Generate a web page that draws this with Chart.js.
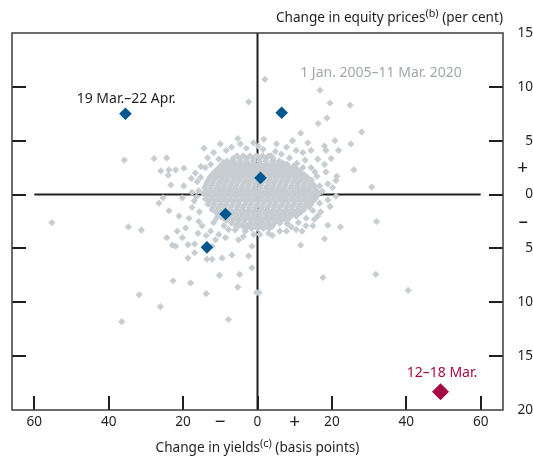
<!DOCTYPE html>
<html><head><meta charset="utf-8">
<script src="https://cdn.jsdelivr.net/npm/chart.js@4"></script>
<style>html,body{margin:0;padding:0;background:#fff}#wrap{width:533px;height:457px;position:relative}</style>
</head><body><div id="wrap"><canvas id="c" width="533" height="457"></canvas></div>
<script>
// ---------- data ----------
const xTickValues = [-60, -40, -20, 0, 20, 40, 60];
const xSignTicks = [{ value: -10, label: '−' }, { value: 10, label: '+' }];
const yTickValues = [15, 10, 5, 0, -5, -10, -15, -20];
const ySignTicks = [{ value: 2.4, label: '+\u00a0' }, { value: -2.6, label: '–\u00a0' }];
const xRange = [-66, 66];
const yRange = [-20, 15];

const xTitle = ['Change in yields', '(c)', ' (basis points)'];
const yTitle = ['Change in equity prices', '(b)', ' (per cent)'];
const labelHistory = '1 Jan. 2005–11 Mar. 2020';
const labelRecent = '19 Mar.–22 Apr.';
const labelCrisis = '12–18 Mar.';

// scattered daily observations, 1 Jan. 2005 – 11 Mar. 2020 (outer part of cloud)
const outlierPoints = [
  [-2.4,8.6],[-14.4,4.3],[-10,4.7],[-5.3,5.2],[-4.6,4.7],[-1.1,4.8],[-35.8,3.2],[-27.8,3.35],[-24.4,3.4],
  [-26,2.2],[-23.8,2.3],[-22,2.3],[-19.8,2.45],[-24,1.8],[-23.3,0.9],[-19.8,0.8],[-16.7,2.0],[-15.3,1.6],
  [-14,2.5],[-12.6,2.8],[-10.4,3.3],[-9.1,3.0],[-6.9,3.1],[-6,2.5],[-15.8,0.35],[-17.6,0.2],
  [-55.3,-2.6],[-34.7,-3.0],[-31.2,-3.3],[-24.4,-4.0],[-22.9,-4.7],[-22,-4.8],[-18.7,-5.9],[-16.9,-5.4],
  [-18.7,-4.65],[-16.9,-4.6],[-20.2,-4.0],[-21.6,-3.4],[-21.1,-2.0],[-23.8,-1.5],[-26.5,-0.8],[-25.4,-0.3],
  [-20.2,-0.3],[-18.4,-2.2],[-19.3,-3.1],[-17.6,-1.2],[-15.8,-2.5],[-14.9,-2.9],[-12.2,-6.0],[-13.6,-6.0],
  [-9.5,-5.9],[-6.9,-5.6],[-11.3,-4.2],[-10.4,-3.7],[-8.6,-4.0],[-5.1,-4.2],[-2.4,-5.7],[-1.5,-6.8],
  [-4.8,-7.4],[-10.2,-7.5],[-22.7,-8.0],[-18,-8.2],[-5.3,-8.6],[-13.8,-9.2],[-31.8,-9.3],[-26.1,-10.4],
  [-36.5,-11.8],[-7.8,-11.6],[-0.2,-9.1],[-5.1,-2.9],[-3.3,-3.4],[-2.4,-2.9],[-1.5,-4.8],[-7.8,-3.25],[-12.6,-3.4],
  [2.0,10.7],[16.8,9.7],[19.5,8.5],[24.9,8.3],[18.7,7.1],[16.3,6.6],[28,5.8],[11.6,5.7],[1.7,5.15],[9.4,5.0],
  [13.5,4.8],[20.8,5.0],[18,4.5],[25.1,4.7],[21.8,4.1],[18.4,4.1],[14.4,4.1],[12.2,3.9],[10.4,4.1],[7.8,4.4],
  [5.1,4.7],[1.5,4.2],[6.4,3.75],[8.6,3.4],[16.2,3.3],[19.8,3.35],[18,2.8],[25.9,2.3],[14.4,2.5],[12.2,2.5],
  [16,1.7],[21.3,1.7],[18.4,2.1],[30.7,0.7],[16.7,0.8],[18.9,1.0],[21.1,1.3],[20.2,0.65],[3.7,3.6],[4.2,3.1],[2.4,2.8],
  [21.1,-0.15],[18.9,-0.5],[19.5,-1.1],[16.7,-0.8],[14.9,-1.5],[13.1,-2.2],[15.3,-2.3],[14.9,-2.9],[18.9,-2.85],
  [22.3,-3.0],[32,-2.5],[10.4,-2.0],[9.1,-3.0],[10.4,-3.25],[12,-3.4],[7.8,-3.4],[6.4,-2.3],[4,-2.9],[2.4,-2.8],
  [4,-3.8],[0.6,-3.7],[0.6,-2.5],[11.6,-4.7],[18,-4.1],[17.6,-7.7],[31.8,-7.4],[40.5,-8.9],[0.4,-9.1]
];

// observations on the ragged edge of the core
const fringePoints = [
  [-16.2,1.2],[-17.0,-0.6],[-15.6,-1.6],[-16.4,-0.2],[-15.2,2.6],[-17.8,1.5],[-16.0,-3.6],[-13.8,-3.8],
  [-12.2,-4.8],[-11.8,-2.6],[-13.4,3.4],[-11.8,3.9],[-8.4,4.1],[-7.0,4.4],[-3.0,4.3],[0.2,4.5],[4.8,4.0],
  [6.4,3.0],[8.0,2.8],[10.6,2.9],[12.8,3.2],[15.4,2.1],[17.4,0.3],[17.0,-1.6],[16.2,-2.0],[13.0,-2.9],
  [11.0,-2.6],[8.0,-2.7],[6.0,-3.4],[3.0,-3.6],[-1.0,-3.7],[-3.8,-3.9],[-6.0,-3.3],[-9.0,-2.9],[-11.0,-2.2]
];

// dense core of the cloud: [equity change, [yield changes...]]
const coreRows = [
  [3.6, [-5.5,-3.8,-2.0,-0.3,1.4,3.0]],
  [3.35, [-6.6,-4.7,-2.9,-1.1,0.6,2.3,4.2]],
  [3.1, [-8.2,-6.4,-4.7,-3.0,-1.2,0.5,2.2,4.0,5.8]],
  [2.85, [-9.3,-7.7,-6.0,-4.3,-2.6,-1.0,0.7,2.4,4.0,5.6,7.2]],
  [2.6, [-10.1,-8.5,-6.9,-5.2,-3.5,-1.9,-0.2,1.5,3.1,4.8,6.4,8.1,9.6]],
  [2.35, [-10.8,-9.2,-7.5,-5.9,-4.2,-2.5,-0.9,0.8,2.4,4.1,5.8,7.4,9.0,10.6]],
  [2.1, [-11.6,-10.0,-8.3,-6.7,-5.0,-3.4,-1.7,0.0,1.7,3.3,5.0,6.6,8.3,9.9,11.4]],
  [1.85, [-12.2,-10.6,-8.9,-7.3,-5.6,-4.0,-2.3,-0.6,1.0,2.7,4.3,6.0,7.6,9.3,10.9,12.5]],
  [1.6, [-12.8,-11.2,-9.5,-7.9,-6.2,-4.6,-2.9,-1.3,0.4,2.0,3.7,5.3,7.0,8.6,10.3,11.9,13.4]],
  [1.35, [-13.2,-11.6,-9.9,-8.3,-6.6,-5.0,-3.3,-1.7,0.0,1.6,3.3,4.9,6.6,8.2,9.9,11.5,13.1,14.5]],
  [1.1, [-13.6,-12.0,-10.3,-8.7,-7.0,-5.4,-3.7,-2.1,-0.4,1.2,2.9,4.5,6.2,7.8,9.5,11.1,12.8,14.3]],
  [0.85, [-13.9,-12.3,-10.6,-9.0,-7.3,-5.7,-4.0,-2.4,-0.7,0.9,2.6,4.2,5.9,7.5,9.2,10.8,12.5,14.1,15.2]],
  [0.6, [-14.2,-12.6,-10.9,-9.3,-7.6,-6.0,-4.3,-2.7,-1.0,0.6,2.3,3.9,5.6,7.2,8.9,10.5,12.2,13.8,15.3]],
  [0.35, [-13.8,-12.1,-10.4,-8.8,-7.1,-5.5,-3.8,-2.2,-0.5,1.1,2.8,4.4,6.1,7.7,9.4,11.0,12.7,14.3,15.8]],
  [0.1, [-14.5,-12.9,-11.2,-9.6,-7.9,-6.3,-4.6,-3.0,-1.3,0.3,2.0,3.6,5.3,6.9,8.6,10.2,11.9,13.5,15.1,16.4]],
  [-0.15, [-13.6,-12.0,-10.3,-8.7,-7.0,-5.4,-3.7,-2.1,-0.4,1.2,2.9,4.5,6.2,7.8,9.5,11.1,12.8,14.4,15.9]],
  [-0.4, [-14.0,-12.4,-10.7,-9.1,-7.4,-5.8,-4.1,-2.5,-0.8,0.8,2.5,4.1,5.8,7.4,9.1,10.7,12.4,14.0,15.5]],
  [-0.65, [-13.1,-11.5,-9.8,-8.2,-6.5,-4.9,-3.2,-1.6,0.1,1.7,3.4,5.0,6.7,8.3,10.0,11.6,13.2,14.7]],
  [-0.9, [-13.3,-11.7,-10.0,-8.4,-6.7,-5.1,-3.4,-1.8,-0.1,1.5,3.2,4.8,6.5,8.1,9.8,11.4,13.0,14.4]],
  [-1.15, [-12.0,-10.4,-8.7,-7.1,-5.4,-3.8,-2.1,-0.5,1.2,2.8,4.5,6.1,7.8,9.4,11.1,12.7,13.9]],
  [-1.4, [-12.2,-10.6,-8.9,-7.3,-5.6,-4.0,-2.3,-0.7,1.0,2.6,4.3,5.9,7.6,9.2,10.9,12.4]],
  [-1.65, [-11.1,-9.5,-7.8,-6.2,-4.5,-2.9,-1.2,0.4,2.1,3.7,5.4,7.0,8.7,10.3,11.6]],
  [-1.9, [-10.6,-9.0,-7.3,-5.7,-4.0,-2.4,-0.7,0.9,2.6,4.2,5.9,7.5,9.2,10.6]],
  [-2.15, [-9.4,-7.8,-6.1,-4.5,-2.8,-1.2,0.5,2.1,3.8,5.4,7.0,8.6]],
  [-2.4, [-8.4,-6.8,-5.1,-3.5,-1.8,-0.2,1.5,3.1,4.8,6.4,7.9]],
  [-2.65, [-7.0,-5.3,-3.6,-2.0,-0.4,1.2,2.9,4.5,6.0]],
  [-2.9, [-5.8,-4.1,-2.5,-0.8,0.8,2.5,4.0]],
  [-3.15, [-3.3,-1.6,0.0,1.6,3.2]]
];

// weekly/period changes highlighted
const recentPoints = [[-35.5,7.5],[6.5,7.6],[0.8,1.55],[-8.6,-1.8],[-13.6,-4.9]];
const crisisPoints = [[49.2,-18.3]];

// ---------- styles ----------
const FONT = '"Noto Sans", "Open Sans", sans-serif';
const INK = '#231f20';
const GREY = '#c7cdd1';
const BLUE = '#00578f';
const CRIMSON = '#a50b42';
const BASE_SIZE = 13.6;
const SIGN_SIZE = 19;

const toXY = p => ({ x: p[0], y: p[1] });
const historyData = outlierPoints.concat(fringePoints).map(toXY).concat(
  coreRows.flatMap(r => r[1].map(x => ({ x: x, y: r[0] })))
);

const annotationPlacement = [
  { text: labelHistory, x: 33.2, y: 11.3, color: '#a2a7ab' },
  { text: labelRecent, x: -35.3, y: 8.9, color: INK },
  { text: labelCrisis, x: 49.6, y: -16.6, color: CRIMSON }
];

function drawRich(ctx, parts, x, y, align, size) {
  const main = size + 'px ' + FONT;
  const sup = (size * 0.8) + 'px ' + FONT;
  ctx.font = main; const w0 = ctx.measureText(parts[0]).width;
  ctx.font = sup; const w1 = ctx.measureText(parts[1]).width;
  ctx.font = main; const w2 = ctx.measureText(parts[2]).width;
  const total = w0 + w1 + w2;
  let sx = align === 'right' ? x - total : align === 'center' ? x - total / 2 : x;
  ctx.textAlign = 'left'; ctx.textBaseline = 'alphabetic';
  ctx.font = main; ctx.fillText(parts[0], sx, y);
  ctx.font = sup; ctx.fillText(parts[1], sx + w0, y - size * 0.38);
  ctx.font = main; ctx.fillText(parts[2], sx + w0 + w1, y);
}

const framePlugin = {
  id: 'frame',
  beforeDatasetsDraw(chart) {
    const { ctx, chartArea: a, scales: { x, y } } = chart;
    ctx.save();
    ctx.strokeStyle = INK;
    ctx.lineWidth = 2;
    const x0 = x.getPixelForValue(0), y0 = y.getPixelForValue(0);
    ctx.beginPath();
    ctx.moveTo(x0, a.top); ctx.lineTo(x0, a.bottom);
    ctx.moveTo(x.getPixelForValue(xTickValues[0]), y0);
    ctx.lineTo(x.getPixelForValue(xTickValues[xTickValues.length - 1]), y0);
    const TL = 14;
    yTickValues.filter(v => v > yRange[0] && v < yRange[1]).forEach(v => {
      const py = Math.round(y.getPixelForValue(v));
      ctx.moveTo(a.left, py); ctx.lineTo(a.left + TL, py);
      ctx.moveTo(a.right - TL, py); ctx.lineTo(a.right, py);
    });
    xTickValues.forEach(v => {
      const px = Math.round(x.getPixelForValue(v));
      ctx.moveTo(px, a.bottom); ctx.lineTo(px, a.bottom - TL);
    });
    ctx.stroke();
    ctx.lineWidth = 1.5;
    ctx.strokeStyle = '#3d3d3d';
    ctx.strokeRect(a.left, a.top, a.right - a.left, a.bottom - a.top);
    ctx.restore();
  },
  afterDraw(chart) {
    const { ctx, chartArea: a, scales: { x, y } } = chart;
    ctx.save();
    ctx.fillStyle = INK;
    drawRich(ctx, yTitle, a.right, 22, 'right', BASE_SIZE);
    drawRich(ctx, xTitle, x.getPixelForValue(0), 452, 'center', BASE_SIZE);
    ctx.font = '14px ' + FONT;
    ctx.textAlign = 'center'; ctx.textBaseline = 'middle';
    annotationPlacement.forEach(t => {
      ctx.fillStyle = t.color;
      ctx.fillText(t.text, x.getPixelForValue(t.x), y.getPixelForValue(t.y));
    });
    ctx.restore();
  }
};

const signLabel = (list, v, fallback) => {
  const s = list.find(t => t.value === v);
  return s ? s.label : fallback;
};
const isSign = (list, v) => list.some(t => t.value === v);
const tickFont = list => ctx => (ctx.tick && isSign(list, ctx.tick.value))
  ? { family: FONT, size: SIGN_SIZE, lineHeight: (BASE_SIZE * 1.2) / SIGN_SIZE }
  : { family: FONT, size: BASE_SIZE, lineHeight: 1.2 };

new Chart(document.getElementById('c'), {
  type: 'scatter',
  data: {
    datasets: [
      { label: labelCrisis, data: crisisPoints.map(toXY), order: 0,
        pointStyle: 'rectRot', pointRadius: 8.5, pointHoverRadius: 8.5,
        backgroundColor: CRIMSON, borderWidth: 0 },
      { label: labelRecent, data: recentPoints.map(toXY), order: 1,
        pointStyle: 'rectRot', pointRadius: 6.3, pointHoverRadius: 6.3,
        backgroundColor: BLUE, borderWidth: 0 },
      { label: labelHistory, data: historyData, order: 2,
        pointStyle: 'rectRot', pointRadius: 3.6, pointHoverRadius: 3.6,
        backgroundColor: GREY, borderWidth: 0 }
    ]
  },
  options: {
    responsive: false,
    animation: false,
    devicePixelRatio: 1,
    layout: { padding: { left: 12, top: 33, right: 0, bottom: 0 } },
    plugins: { legend: { display: false }, tooltip: { enabled: false } },
    scales: {
      x: {
        type: 'linear', position: 'bottom', min: xRange[0], max: xRange[1],
        grid: { display: false, drawTicks: false }, border: { display: false },
        afterBuildTicks: s => {
          s.ticks = xTickValues.concat(xSignTicks.map(t => t.value))
            .sort((a, b) => a - b).map(v => ({ value: v }));
        },
        afterFit: s => { s.height = 47; },
        ticks: {
          autoSkip: false, maxRotation: 0, padding: 4, color: INK,
          font: tickFont(xSignTicks),
          callback: v => signLabel(xSignTicks, v, String(Math.abs(v)))
        }
      },
      y: {
        type: 'linear', position: 'right', min: yRange[0], max: yRange[1],
        grid: { display: false, drawTicks: false }, border: { display: false },
        afterBuildTicks: s => {
          s.ticks = yTickValues.concat(ySignTicks.map(t => t.value))
            .sort((a, b) => a - b).map(v => ({ value: v }));
        },
        afterFit: s => { s.width = 30; },
        ticks: {
          autoSkip: false, crossAlign: 'far', padding: 0, color: INK,
          font: tickFont(ySignTicks),
          callback: v => signLabel(ySignTicks, v, String(Math.abs(v)))
        }
      }
    }
  },
  plugins: [framePlugin]
});
</script></body></html>
